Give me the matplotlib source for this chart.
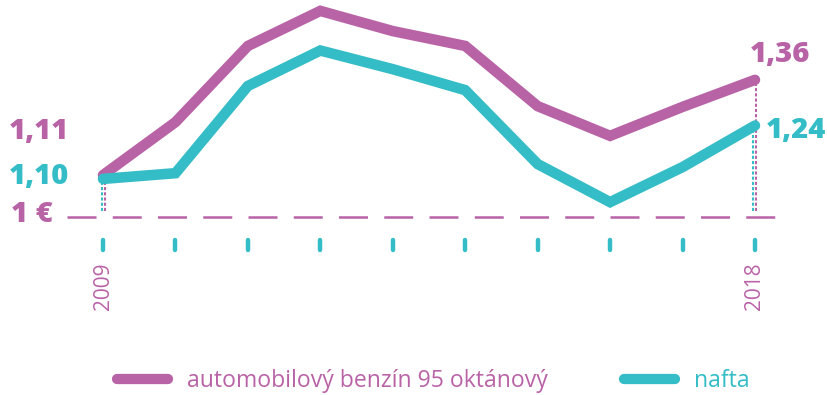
import matplotlib
matplotlib.use('Agg')
import matplotlib.pyplot as plt
import numpy as np

# fuel prices in EUR per litre, 2009-2018
years = [2009, 2010, 2011, 2012, 2013, 2014, 2015, 2016, 2017, 2018]
benzin = [1.11, 1.249, 1.449, 1.541, 1.488, 1.449, 1.291, 1.213, 1.289, 1.36]
nafta = [1.10, 1.115, 1.344, 1.437, 1.388, 1.333, 1.139, 1.039, 1.131, 1.24]
series_names = ['automobilový benzín 95 oktánový', 'nafta']
base_value = 1.0
base_label = '1 €'
year_labels = ['2009', '2018']

PINK = '#B963A7'
TEAL = '#35BDC7'
FONT = 'Open Sans'

plt.rcParams['font.family'] = [FONT, 'DejaVu Sans']

fig = plt.figure(figsize=(8.28, 3.95), dpi=100)
ax = fig.add_axes([0, 0, 1, 1])
ax.set_xlim(2007.578, 2019.008)
ax.set_ylim(0.5328, 1.5696)
ax.axis('off')

px_x = (2019.008 - 2007.578) / 828   # years per pixel
px_y = (1.5696 - 0.5328) / 395      # euro per pixel

# dashed 1 euro line
ax.plot([years[0] - 36 * px_x, years[-1] + 21 * px_x], [base_value, base_value],
        color=PINK, lw=1.8, linestyle=(0, (11.6, 6.5)), solid_capstyle='butt', zorder=1)

# dotted drop lines at the ends
for i in [0, -1]:
    ax.vlines(years[i] - 1.5 * px_x, base_value + 6 * px_y, nafta[i], color=TEAL,
              lw=1.5, linestyle=(0, (1.5, 1)), zorder=2)
    ax.vlines(years[i] + 1.5 * px_x, base_value + 6 * px_y, benzin[i], color=PINK,
              lw=1.5, linestyle=(0, (1.5, 1)), zorder=2)

# small tick marks under every year
ax.vlines(years, base_value - 23 * px_y, base_value - 33 * px_y, color=TEAL,
          lw=3.2, capstyle='round', zorder=2)

# the two series
ax.plot(years, benzin, color=PINK, lw=7.6, solid_capstyle='round',
        solid_joinstyle='miter', zorder=3, label=series_names[0])
ax.plot(years, nafta, color=TEAL, lw=7.6, solid_capstyle='round',
        solid_joinstyle='miter', zorder=4, label=series_names[1])

# value labels
lbl = dict(textcoords='offset pixels', fontsize=21, fontweight=800, va='baseline')
ax.annotate('1,11', (years[0], benzin[0]), xytext=(-34, 36), ha='right', color=PINK, **lbl)
ax.annotate('1,10', (years[0], nafta[0]), xytext=(-34, -5), ha='right', color=TEAL, **lbl)
ax.annotate(base_label, (years[0], base_value), xytext=(-50, -5), ha='right', color=PINK, **lbl)
ax.annotate('1,36', (years[-1], benzin[-1]), xytext=(-5, 18), ha='left', color=PINK, **lbl)
ax.annotate('1,24', (years[-1], nafta[-1]), xytext=(11, -12), ha='left', color=TEAL, **lbl)

# year labels
for yr in year_labels:
    ax.annotate(yr, (int(yr), base_value), xytext=(0, -45), textcoords='offset pixels',
                rotation=90, ha='center', va='top', color=PINK, fontsize=15)

# legend
leg = ax.legend(loc='center left', bbox_to_anchor=(117 / 828, 1 - 381 / 395),
                bbox_transform=fig.transFigure, ncol=2, frameon=False,
                fontsize=16.6, handlelength=2.2, handletextpad=0.85, columnspacing=3.3,
                borderpad=0, borderaxespad=0)
for text, c in zip(leg.get_texts(), [PINK, TEAL]):
    text.set_color(c)
for line in leg.get_lines():
    line.set_linewidth(7.4)
    line.set_solid_capstyle('round')

fig.savefig('out.png', dpi=100)
